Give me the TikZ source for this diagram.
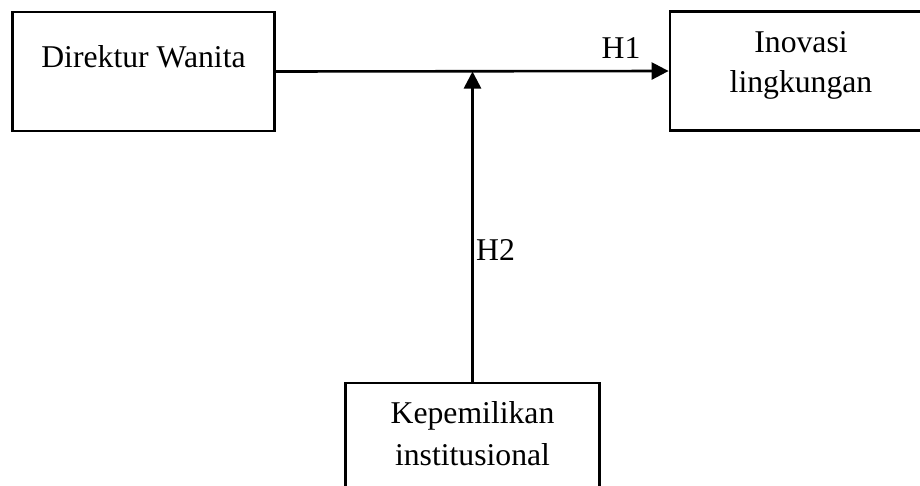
\documentclass[tikz,border=0pt]{standalone}
\usepackage{fontspec}
\setmainfont{Liberation Serif}
\usetikzlibrary{positioning,calc,arrows.meta}
\tikzset{
  vbox/.style  = {draw, line width=2.8pt, minimum width=262pt, minimum height=119pt,
                  align=center, inner sep=0pt, font=\fontsize{31.7}{40}\selectfont},
  arr/.style   = {line width=2.6pt, -{Triangle[length=17pt,width=17pt]}},
  lbl/.style   = {inner sep=0pt, font=\fontsize{31.7}{40}\selectfont},
}
\begin{document}
\begin{tikzpicture}[x=1pt,y=-1pt]
  \useasboundingbox (0,0) rectangle (920,485);
  \node[vbox, text height=22pt, text depth=31pt] (dir) at (143.5,71.5) {Direktur Wanita};
  \node[vbox, text height=62pt, text depth=20pt] (ino) at (801,71) {Inovasi\\lingkungan};
  \node[vbox, minimum width=254pt, text height=65pt, text depth=20pt,
        font=\fontsize{31.7}{42}\selectfont] (kep) at (472.5,442.5) {Kepemilikan\\institusional};
  \draw[arr] (dir.east) -- (ino.west);
  \coordinate (mid) at (kep.north |- dir.east);
  \draw[arr] (kep.north) -- (mid);
  \node[lbl] (h1) at (621,48) {H1};
  \node[lbl, anchor=west] (h2) at (476,250) {H2};
\end{tikzpicture}
\end{document}
